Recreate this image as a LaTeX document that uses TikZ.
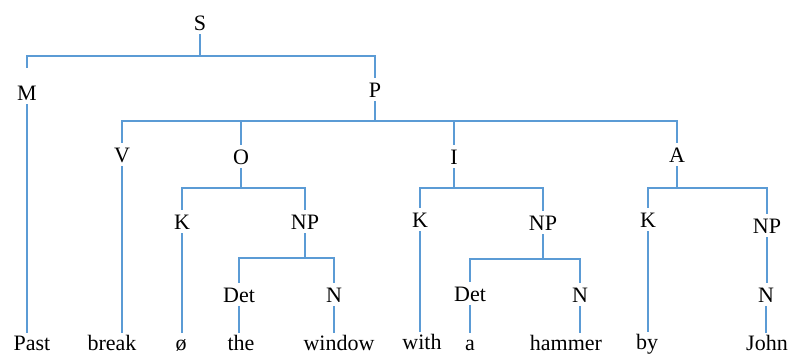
\documentclass[tikz,border=0pt]{standalone}
\usepackage{fontspec}
\setmainfont{Liberation Serif}
\definecolor{treeblue}{RGB}{91,155,213}
\begin{document}
\begin{tikzpicture}[x=1pt,y=-1pt,
  lab/.style={anchor=base,inner xsep=1pt,inner ysep=4pt,text height=15pt,text depth=0pt,font=\fontsize{22}{26}\selectfont},
  word/.style={lab,inner ysep=2pt},
  edge/.style={draw=treeblue,line width=1.3pt}]
\useasboundingbox (0,0) rectangle (789,354);
% categories
\node[lab] (S) at (200,30) {S};
\node[lab] (M) at (27,100) {M};
\node[lab] (P) at (375,97) {P};
\node[lab] (V) at (122,162) {V};
\node[lab] (O) at (241,164) {O};
\node[lab] (I) at (454,164) {I};
\node[lab] (A) at (677,162) {A};
\node[lab] (K1) at (182,229) {K};
\node[lab] (NP1) at (305,229) {NP};
\node[lab] (Det1) at (239,302) {Det};
\node[lab] (N1) at (334,302) {N};
\node[lab] (K2) at (420,227) {K};
\node[lab] (NP2) at (543,230) {NP};
\node[lab] (Det2) at (470,301) {Det};
\node[lab] (N2) at (580,302) {N};
\node[lab] (K3) at (648,227) {K};
\node[lab] (NP3) at (767,233) {NP};
\node[lab] (N3) at (766,302) {N};
% words
\node[word] (past) at (32,350) {Past};
\node[word] (break) at (112,350) {break};
\node[word] (null) at (181,350) {ø};
\node[word] (the) at (241,350) {the};
\node[word] (window) at (339,350) {window};
\node[word] (with) at (422,349) {with};
\node[word] (a) at (470,350) {a};
\node[word] (hammer) at (566,350) {hammer};
\node[word] (by) at (647,349) {by};
\node[word] (John) at (767,350) {John};
% bar junctions
\coordinate (bS) at (200,56);
\coordinate (bP) at (375,121);
\coordinate (bO) at (241,188);
\coordinate (bI) at (454,188);
\coordinate (bA) at (677,188);
\coordinate (bNP1) at (305,258);
\coordinate (bNP2) at (543,259);
% S
\draw[edge] (S.south) -- (bS);
\draw[edge,shorten <=13pt] (M.north) |- (bS);
\draw[edge] (P.north) |- (bS);
\draw[edge] (M.south) -- (M.south |- past.north);
% P
\draw[edge] (P.south) -- (bP);
\draw[edge] (V.north) |- (bP);
\draw[edge] (O.north) |- (bP);
\draw[edge] (I.north) |- (bP);
\draw[edge] (A.north) |- (bP);
\draw[edge] (V.south) -- (V.south |- break.north);
% O
\draw[edge] (O.south) -- (bO);
\draw[edge] (K1.north) |- (bO);
\draw[edge] (NP1.north) |- (bO);
\draw[edge] (K1.south) -- (K1.south |- null.north);
\draw[edge] (NP1.south) -- (bNP1);
\draw[edge] (Det1.north) |- (bNP1);
\draw[edge] (N1.north) |- (bNP1);
\draw[edge] (Det1.south) -- (Det1.south |- the.north);
\draw[edge] (N1.south) -- (N1.south |- window.north);
% I
\draw[edge] (I.south) -- (bI);
\draw[edge] (K2.north) |- (bI);
\draw[edge] (NP2.north) |- (bI);
\draw[edge] (K2.south) -- (K2.south |- with.north);
\draw[edge] (NP2.south) -- (bNP2);
\draw[edge] (Det2.north) |- (bNP2);
\draw[edge] (N2.north) |- (bNP2);
\draw[edge] (Det2.south) -- (Det2.south |- a.north);
\draw[edge] (N2.south) -- (N2.south |- hammer.north);
% A
\draw[edge] (A.south) -- (bA);
\draw[edge] (K3.north) |- (bA);
\draw[edge] (NP3.north) |- (bA);
\draw[edge] (K3.south) -- (K3.south |- by.north);
\draw[edge] (NP3.south) -- (NP3.south |- N3.north);
\draw[edge] (N3.south) -- (N3.south |- John.north);
\end{tikzpicture}
\end{document}
